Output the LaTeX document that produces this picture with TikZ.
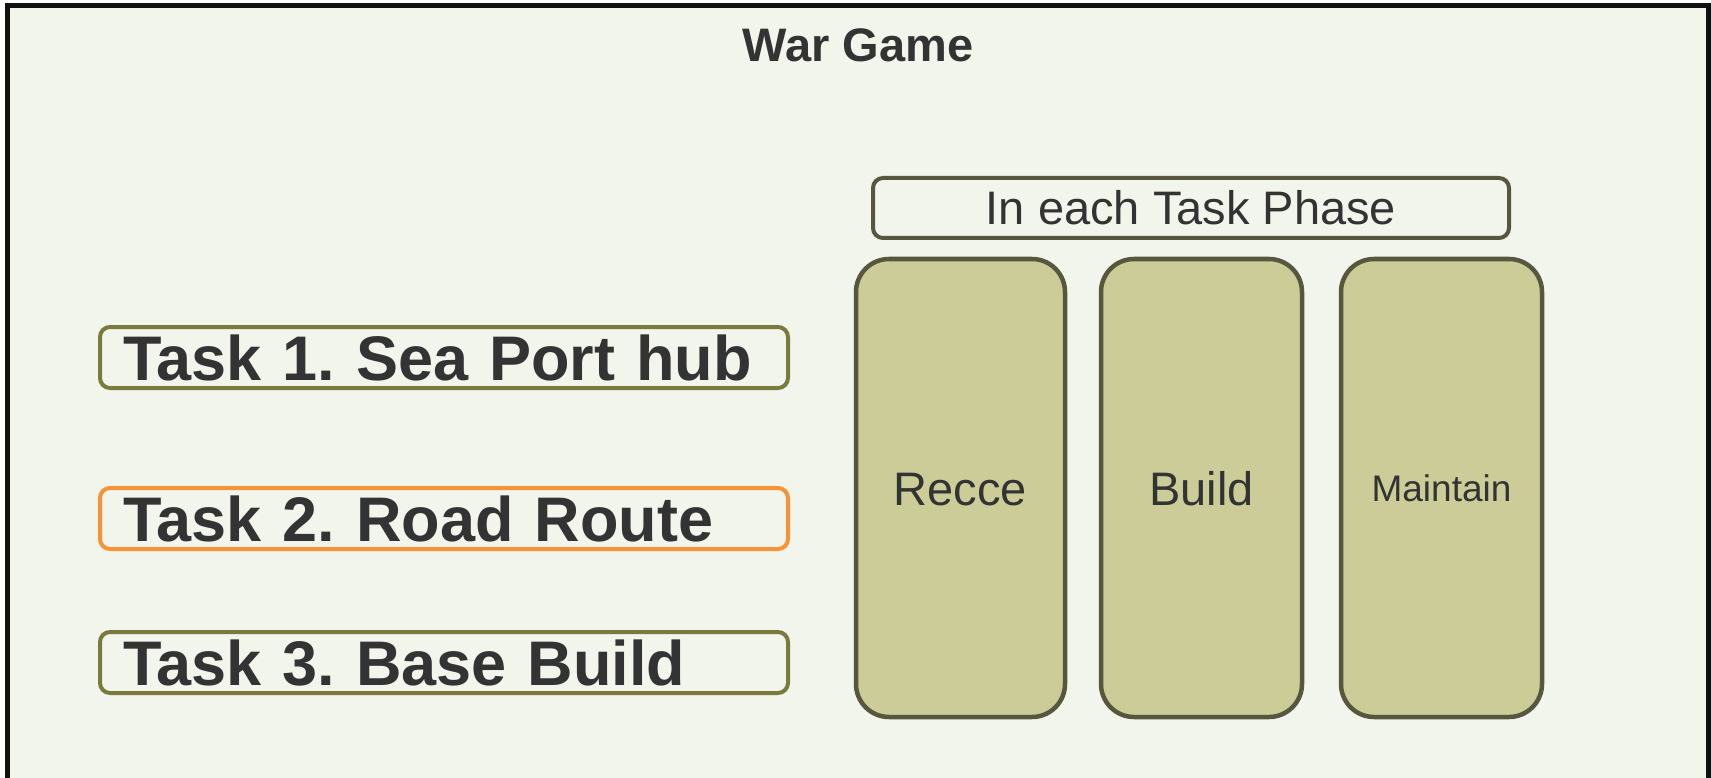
\documentclass[tikz,border=0pt]{standalone}
\usepackage{fontspec}
\setmainfont{Liberation Sans}
\usetikzlibrary{positioning}
\frenchspacing

\definecolor{gamebg}{RGB}{242,245,235}
\definecolor{gameframe}{RGB}{17,17,17}
\definecolor{taskolive}{RGB}{122,122,60}
\definecolor{taskorange}{RGB}{247,147,54}
\definecolor{phaseedge}{RGB}{87,87,63}
\definecolor{phasefill}{RGB}{203,204,151}
\definecolor{inktext}{RGB}{51,51,51}

\tikzset{every picture/.style={line width=0.75pt}}
\tikzset{
  taskbox/.style={draw=taskolive, line width=4pt, fill=gamebg, rounded corners=10pt,
    minimum width=688pt, minimum height=61pt, inner xsep=23pt, inner ysep=0pt,
    text width=642pt, align=left, text height=45pt, text depth=0pt,
    font=\fontsize{63pt}{63pt}\selectfont\bfseries, text=inktext},
  headbox/.style={draw=phaseedge, line width=4pt, fill=gamebg, rounded corners=10pt,
    minimum width=636pt, minimum height=60pt, inner sep=0pt,
    text height=34pt, text depth=0pt,
    font=\fontsize{47pt}{47pt}\selectfont, text=inktext},
  phasebox/.style={draw=phaseedge, line width=4.5pt, fill=phasefill, rounded corners=33pt,
    minimum height=458pt, inner sep=0pt, text depth=0pt,
    font=\fontsize{47pt}{47pt}\selectfont, text=inktext}
}

\begin{document}
\begin{tikzpicture}[x=1pt,y=1pt,yscale=-1]
		\useasboundingbox (0,0) rectangle (1711,778);
		% frame of the whole game
		\draw [draw=gameframe, line width=5.5pt, fill=gamebg] (7.5,5.5) rectangle (1708.5,800);

		\node [anchor=base, font=\fontsize{47pt}{47pt}\selectfont\bfseries, text=inktext] (title) at (858,62) {War Game};

		% tasks
		\node [taskbox] (task1) at (444,357.5) {Task 1. Sea Port hub};
		\node [taskbox, draw=taskorange] (task2) at (444,518.5) {Task 2. Road Route};
		\node [taskbox] (task3) at (444,662.5) {Task 3. Base Build};

		% phases
		\node [headbox] (phase) at (1191,208) {In each Task Phase};
		\node [phasebox, minimum width=209pt, text height=34pt] (recce) at (960.5,488) {Recce};
		\node [phasebox, minimum width=201pt, text height=34pt] (build) at (1201.5,488) {Build};
		\node [phasebox, minimum width=201pt, text height=27pt, font=\fontsize{37pt}{37pt}\selectfont] (maintain) at (1441.5,488) {Maintain};
\end{tikzpicture}
\end{document}
